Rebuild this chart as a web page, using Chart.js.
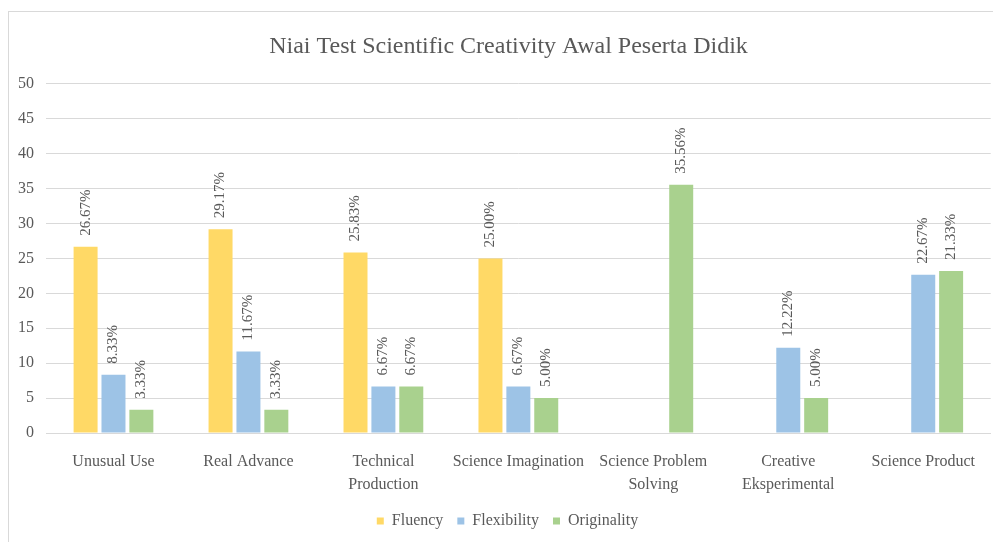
<!DOCTYPE html>
<html>
<head>
<meta charset="utf-8">
<script src="https://cdn.jsdelivr.net/npm/chart.js@4.4.1/dist/chart.umd.min.js"></script>
<style>
  html, body { margin: 0; padding: 0; background: #ffffff; overflow: hidden; }
  #wrap { position: relative; width: 993px; height: 542px; overflow: hidden; }
  #frame { position: absolute; left: 8px; top: 11px; width: 1000px; height: 600px; border-left: 1px solid #d9d9d9; border-top: 1px solid #d9d9d9; box-sizing: border-box; pointer-events: none; }
  canvas { position: absolute; left: 0; top: 0; }
</style>
</head>
<body>
<div id="wrap">
  <canvas id="c" width="993" height="542"></canvas>
  <div id="frame"></div>
</div>
<script>
const categories = [
  "Unusual Use",
  "Real Advance",
  ["Technical", "Production"],
  "Science Imagination",
  ["Science Problem", "Solving"],
  ["Creative", "Eksperimental"],
  "Science Product"
];
const seriesNames = ["Fluency", "Flexibility", "Originality"];
const fluency     = [26.67, 29.17, 25.83, 25.00, null, null, null];
const flexibility = [8.33, 11.67, 6.67, 6.67, null, 12.22, 22.67];
const originality = [3.33, 3.33, 6.67, 5.00, 35.56, 5.00, 23.2];
const fluencyLabels     = ["26.67%", "29.17%", "25.83%", "25.00%", null, null, null];
const flexibilityLabels = ["8.33%", "11.67%", "6.67%", "6.67%", null, "12.22%", "22.67%"];
const originalityLabels = ["3.33%", "3.33%", "6.67%", "5.00%", "35.56%", "5.00%", "21.33%"];
const yTicks = [0, 5, 10, 15, 20, 25, 30, 35, 40, 45, 50];
const titleText = "Niai Test Scientific Creativity Awal Peserta Didik";

const colors = ["#FFD966", "#9DC3E6", "#A9D18E"];
const textColor = "#595959";
const serif = "'Liberation Serif', 'Times New Roman', serif";

const labelSets = [fluencyLabels, flexibilityLabels, originalityLabels];

const verticalLabels = {
  id: "verticalLabels",
  afterDatasetsDraw(chart) {
    const ctx = chart.ctx;
    ctx.save();
    ctx.font = "15px " + serif;
    ctx.fillStyle = textColor;
    ctx.textAlign = "left";
    ctx.textBaseline = "middle";
    chart.data.datasets.forEach((ds, i) => {
      const meta = chart.getDatasetMeta(i);
      meta.data.forEach((el, j) => {
        const txt = labelSets[i][j];
        if (ds.data[j] === null || !txt) return;
        ctx.save();
        ctx.translate(el.x, el.y - 11);
        ctx.rotate(-Math.PI / 2);
        ctx.fillText(txt, 0, 0);
        ctx.restore();
      });
    });
    ctx.restore();
  }
};

const blockShift = {
  id: "blockShift",
  afterLayout(chart) {
    if (chart.legend) { chart.legend.left += 8; chart.legend.right += 8; }
    if (chart.titleBlock) { chart.titleBlock.left += 9; chart.titleBlock.right += 9; }
  }
};

const CANVAS_H = 542, BOTTOM_PAD = 3, PLOT_BOTTOM = 433;

new Chart(document.getElementById("c"), {
  type: "bar",
  data: {
    labels: categories,
    datasets: [
      { label: seriesNames[0], data: fluency, backgroundColor: colors[0] },
      { label: seriesNames[1], data: flexibility, backgroundColor: colors[1] },
      { label: seriesNames[2], data: originality, backgroundColor: colors[2] }
    ]
  },
  options: {
    responsive: false,
    animation: false,
    devicePixelRatio: 1,
    layout: { padding: { left: 6, right: 0, top: 32, bottom: BOTTOM_PAD } },
    datasets: { bar: { barPercentage: 0.86, categoryPercentage: 0.62 } },
    plugins: {
      title: {
        display: true,
        text: titleText,
        color: textColor,
        font: { family: serif, size: 24, weight: "normal" },
        padding: { top: 0, bottom: 23 }
      },
      legend: {
        position: "bottom",
        labels: {
          color: textColor,
          font: { family: serif, size: 16 },
          boxWidth: 7,
          boxHeight: 7,
          padding: 14
        }
      },
      tooltip: { enabled: false }
    },
    scales: {
      x: {
        grid: { display: false, drawTicks: false },
        border: { display: true, color: "#d9d9d9" },
        ticks: { color: textColor, font: { family: serif, size: 16, lineHeight: 1.4 }, maxRotation: 0, autoSkip: false, padding: 18 },
        afterFit(scale) {
          const lg = scale.chart.legend;
          const lh = lg && lg.height ? lg.height : 47;
          scale.height = CANVAS_H - BOTTOM_PAD - lh - PLOT_BOTTOM;
        }
      },
      y: {
        min: 0,
        max: 50,
        afterBuildTicks(scale) { scale.ticks = yTicks.map(v => ({ value: v })); },
        grid: { color: "#d9d9d9", drawTicks: false },
        border: { display: false },
        ticks: { color: textColor, font: { family: serif, size: 16 }, padding: 12 }
      }
    }
  },
  plugins: [verticalLabels, blockShift]
});
</script>
</body>
</html>
